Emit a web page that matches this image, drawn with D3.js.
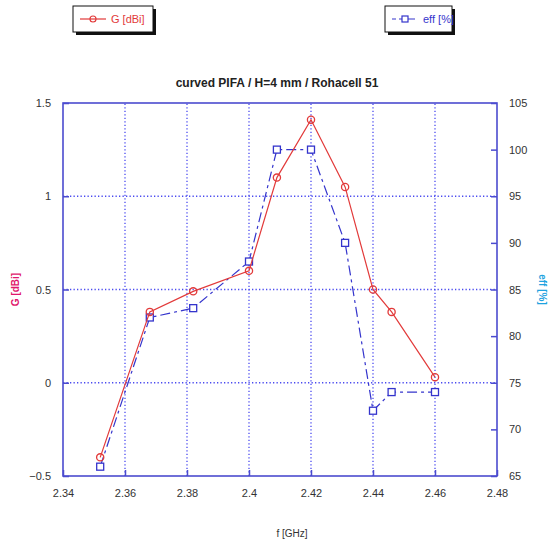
<!DOCTYPE html>
<html>
<head>
<meta charset="utf-8">
<style>
  body {margin: 0; background: #fff; font-family: "Liberation Sans", Arial, sans-serif;}
</style>
<script src="https://d3js.org/d3.v7.min.js"></script>
</head>
<body>
<div id="chart"></div>
<script>

const freq = [2.352, 2.368, 2.382, 2.4, 2.409, 2.42, 2.431, 2.44, 2.446, 2.46]
const gain = [-0.4, 0.38, 0.49, 0.6, 1.1, 1.41, 1.05, 0.5, 0.38, 0.03]
const eff = [66, 82, 83, 88, 100, 100, 90, 72, 74, 74]

const xTicks = [2.34, 2.36, 2.38, 2.4, 2.42, 2.44, 2.46, 2.48]
const gTicks = [-0.5, 0, 0.5, 1, 1.5]
const effTicks = [65, 70, 75, 80, 85, 90, 95, 100, 105]

const width = 549, height = 544
const margin = {top: 103, right: 52, bottom: 68, left: 63}
const axisColor = '#4b4bcf'

const svg = d3.select('#chart').append('svg')
  .attr('width', width)
  .attr('height', height)

const x = d3.scaleLinear().domain([2.34, 2.48]).range([margin.left, width - margin.right])
const yG = d3.scaleLinear().domain([-0.5, 1.5]).range([height - margin.bottom, margin.top])
const yE = d3.scaleLinear().domain([65, 105]).range([height - margin.bottom, margin.top])

// grid (dotted)
const grid = svg.append('g').attr('stroke', '#4a4af0').attr('stroke-width', 1.3)
  .attr('stroke-dasharray', '1.3,2.2')
grid.selectAll('.vg').data(xTicks.slice(1, -1)).enter().append('line')
  .attr('x1', d => x(d)).attr('x2', d => x(d))
  .attr('y1', yG.range()[0]).attr('y2', yG.range()[1])
grid.selectAll('.hg').data(gTicks.slice(1, -1)).enter().append('line')
  .attr('x1', x.range()[0]).attr('x2', x.range()[1])
  .attr('y1', d => yG(d)).attr('y2', d => yG(d))

// axes, ticks drawn inward
const tickStyle = g => {
  g.select('.domain').remove()
  g.selectAll('.tick line').attr('stroke', axisColor).attr('stroke-width', 1.5)
  g.selectAll('.tick text').attr('fill', '#333').style('font-size', '11px')
    .style('font-family', '"Liberation Sans", Arial, sans-serif')
}

svg.append('g')
  .attr('transform', `translate(0,${yG.range()[0]})`)
  .call(d3.axisBottom(x).tickValues(xTicks).tickFormat(d3.format('')).tickSizeInner(-6).tickPadding(13))
  .call(tickStyle)

svg.append('g')
  .attr('transform', `translate(${x.range()[0]},0)`)
  .call(d3.axisLeft(yG).tickValues(gTicks).tickFormat(d3.format('')).tickSizeInner(-6).tickPadding(12))
  .call(tickStyle)

svg.append('g')
  .attr('transform', `translate(${x.range()[1]},0)`)
  .call(d3.axisRight(yE).tickValues(effTicks).tickSizeInner(-6).tickPadding(12))
  .call(tickStyle)

// frame
svg.append('rect')
  .attr('x', x.range()[0]).attr('y', yG.range()[1])
  .attr('width', x.range()[1] - x.range()[0])
  .attr('height', yG.range()[0] - yG.range()[1])
  .attr('fill', 'none').attr('stroke', axisColor).attr('stroke-width', 1.6)

// eff series
const effLine = d3.line().x((d, i) => x(freq[i])).y(d => yE(d))
svg.append('path').datum(eff)
  .attr('d', effLine)
  .attr('fill', 'none').attr('stroke', '#3434cc').attr('stroke-width', 1.2)
  .attr('stroke-dasharray', '10,4,3,4')
svg.append('g').selectAll('rect').data(eff).enter().append('rect')
  .attr('x', (d, i) => x(freq[i]) - 3.5).attr('y', d => yE(d) - 3.5)
  .attr('width', 7).attr('height', 7)
  .attr('fill', 'white').attr('stroke', '#3434cc').attr('stroke-width', 1.3)

// gain series
const gLine = d3.line().x((d, i) => x(freq[i])).y(d => yG(d))
svg.append('path').datum(gain)
  .attr('d', gLine)
  .attr('fill', 'none').attr('stroke', '#e23a3a').attr('stroke-width', 1.2)
svg.append('g').selectAll('circle').data(gain).enter().append('circle')
  .attr('cx', (d, i) => x(freq[i])).attr('cy', d => yG(d))
  .attr('r', 3.6)
  .attr('fill', 'none').attr('stroke', '#e23a3a').attr('stroke-width', 1.3)

// title and axis labels
svg.append('text')
  .attr('x', 277).attr('y', 87)
  .attr('text-anchor', 'middle')
  .style('font-size', '12px').style('font-weight', 'bold').attr('fill', '#222')
  .text('curved PIFA / H=4 mm / Rohacell 51')

svg.append('text')
  .attr('x', 292).attr('y', 537)
  .attr('text-anchor', 'middle')
  .style('font-size', '10px').attr('fill', '#333')
  .text('f [GHz]')

svg.append('text')
  .attr('transform', `translate(19,${(yG.range()[0] + yG.range()[1]) / 2}) rotate(-90)`)
  .attr('text-anchor', 'middle')
  .style('font-size', '10px').style('font-weight', 'bold').attr('fill', '#e0186c')
  .text('G [dBi]')

svg.append('text')
  .attr('transform', `translate(539,${(yG.range()[0] + yG.range()[1]) / 2}) rotate(90)`)
  .attr('text-anchor', 'middle')
  .style('font-size', '10px').style('font-weight', 'bold').attr('fill', '#1fa3e0')
  .text('eff [%]')

// legend boxes
function legendBox(x0, w, color, label, square, dash) {
  const g = svg.append('g').attr('transform', `translate(${x0},6)`)
  g.append('rect').attr('x', 3).attr('y', 3).attr('width', w).attr('height', 26).attr('fill', '#111')
  g.append('rect').attr('x', 0).attr('y', 0).attr('width', w).attr('height', 26)
    .attr('fill', 'white').attr('stroke', '#111').attr('stroke-width', 1)
  g.append('line').attr('x1', 7).attr('x2', 33).attr('y1', 13).attr('y2', 13)
    .attr('stroke', color).attr('stroke-width', 1.2).attr('stroke-dasharray', dash)
  if (square) {
    g.append('rect').attr('x', 17).attr('y', 10).attr('width', 6).attr('height', 6)
      .attr('fill', 'white').attr('stroke', color).attr('stroke-width', 1.2)
  } else {
    g.append('circle').attr('cx', 20).attr('cy', 13).attr('r', 3)
      .attr('fill', 'none').attr('stroke', color).attr('stroke-width', 1.2)
  }
  g.append('text').attr('x', 38).attr('y', 17)
    .style('font-size', '11px').attr('fill', color).text(label)
}
legendBox(73, 80, '#e23a3a', 'G [dBi]', false, null)
legendBox(385, 67, '#3434cc', 'eff [%]', true, '4,3,12,0')

</script>
</body>
</html>
